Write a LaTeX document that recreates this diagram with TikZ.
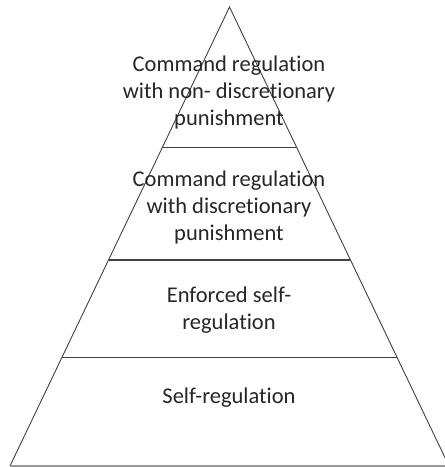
\documentclass[tikz,border=0pt]{standalone}
\usepackage{fontspec}
\setmainfont{Carlito}[Ligatures=NoCommon]
\usetikzlibrary{calc}

\tikzset{
  side/.style={draw=black!75, line width=0.9pt},
  tier/.style={draw=black!75, line width=1.4pt},
  label/.style={align=center, font=\fontsize{22.5}{27}\selectfont, text=black!85}
}

\begin{document}
\begin{tikzpicture}[x=1pt,y=-1pt]
      \useasboundingbox (0,0) rectangle (445,467);

      \coordinate (apex) at (229.5,7);
      \coordinate (bl) at (10,466);
      \coordinate (br) at (449,466);

      \draw[side] (bl) -- (apex) -- (br);
      \draw[draw=black!40, line width=1.4pt] (bl) -- (br);

      \draw[tier] ($(apex)!0.3055!(bl)$) -- ($(apex)!0.3055!(br)$);
      \draw[tier] ($(apex)!0.551!(bl)$) -- ($(apex)!0.551!(br)$);
      \draw[tier] ($(apex)!0.764!(bl)$) -- ($(apex)!0.764!(br)$);

      \node[label] (top) at (229,92) {Command regulation\\with non- discretionary\\punishment};
      \node[label] (upper) at (229,207) {Command regulation\\with discretionary\\punishment};
      \node[label] (lower) at (229,310) {Enforced self-\\regulation};
      \node[label] (base) at (229,398) {Self-regulation};

    \end{tikzpicture}
\end{document}
